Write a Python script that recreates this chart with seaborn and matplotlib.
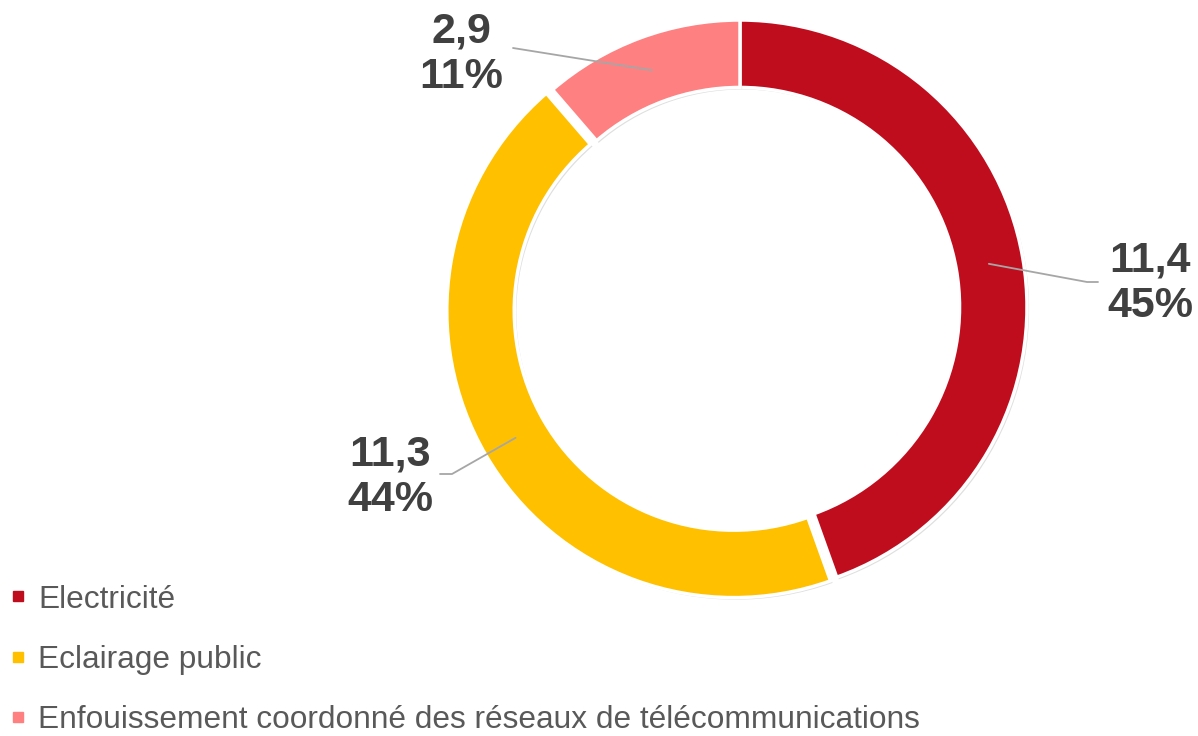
import numpy as np
import matplotlib
matplotlib.use("Agg")
import matplotlib.pyplot as plt
import matplotlib.patheffects as pe
from matplotlib.lines import Line2D
import seaborn as sns

# Data
categories = ["Electricité", "Eclairage public",
              "Enfouissement coordonné des réseaux de télécommunications"]
values = [11.4, 11.3, 2.9]
colors = ["#C00D1E", "#FFC000", "#FF8080"]
explode = [0.0, 0.025, 0.0]

sns.set_style("white")
plt.rcParams["font.family"] = ["Liberation Sans", "DejaVu Sans"]

W, H = 1198, 736
fig = plt.figure(figsize=(W / 100, H / 100), dpi=100)

# donut centre / radius in pixels
cx, cy, R = 740, 307, 287
half = 320
ax = fig.add_axes([(cx - half) / W, (H - cy - half) / H, 2 * half / W, 2 * half / H])

ring = 0.235
wedges, _ = ax.pie(values, colors=colors, startangle=90, counterclock=False,
                   explode=explode, radius=1.0,
                   wedgeprops=dict(width=ring, edgecolor="white", linewidth=2.5))
# soft grey shadow like the original
for w in wedges:
    w.set_path_effects([pe.SimplePatchShadow(offset=(1.5, -1.5), shadow_rgbFace="#7f7f7f", alpha=0.25),
                        pe.Normal()])
lim = half / R
ax.set_xlim(-lim, lim)
ax.set_ylim(-lim, lim)
ax.set_aspect("equal")
ax.axis("off")


def px(x, y):
    return (x - cx) / R, (cy - y) / R


total = sum(values)
# label block centre and leader path (pixels)
label_pos = [(1150, 283), (390, 477), (461, 54)]
elbows = [[(1087, 282), (1098, 282)], [(452, 474), (440, 474)], [(513, 48)]]

for w, v, lp, el in zip(wedges, values, label_pos, elbows):
    ang = np.deg2rad((w.theta1 + w.theta2) / 2)
    r0 = 0.88
    ox, oy = w.center
    pts = [(ox + r0 * np.cos(ang), oy + r0 * np.sin(ang))] + [px(*p) for p in el]
    xs, ys = zip(*pts)
    ax.plot(xs, ys, color="#A6A6A6", lw=1.3, clip_on=False)
    txt = f"{v:.1f}".replace(".", ",") + f"\n{round(100 * v / total):.0f}%"
    tx, ty = px(*lp)
    ax.text(tx, ty, txt, ha="center", va="center", fontsize=31, fontweight="bold",
            color="#404040", linespacing=1.17, clip_on=False)

handles = [Line2D([], [], marker="s", linestyle="", markersize=7.5,
                  markerfacecolor=c, markeredgecolor=c) for c in colors]
fig.legend(handles, categories, loc="upper left", bbox_to_anchor=(0.0, 1 - 575 / H),
           frameon=False, fontsize=22.8, labelcolor="#595959", handlelength=0.55,
           handletextpad=0.35, labelspacing=0.96, borderaxespad=0.0, borderpad=0.3)

fig.savefig("out.png", dpi=100, facecolor="white")
